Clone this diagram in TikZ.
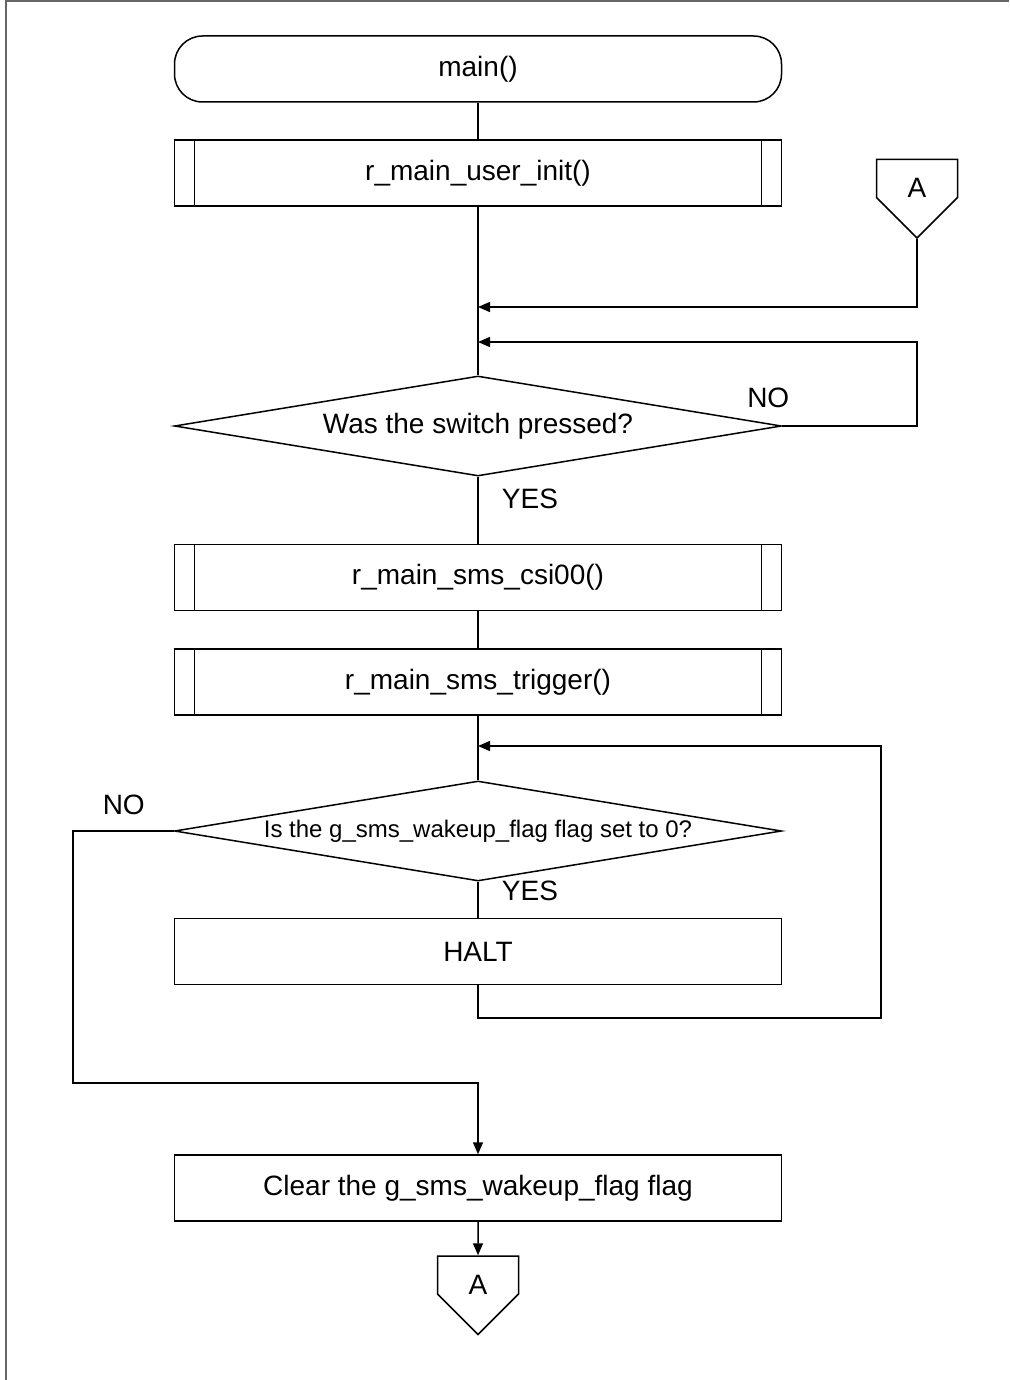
\documentclass[tikz,border=0pt]{standalone}
\usepackage{fontspec}
\setmainfont{Liberation Sans}
\usetikzlibrary{arrows.meta,shapes.geometric,shapes.symbols}

\begin{document}
\begin{tikzpicture}[x=0.5pt,y=-0.5pt,>={Triangle[length=6pt,width=5pt]},
                    line width=0.75pt,font=\fontsize{14}{16}\selectfont]

  \tikzstyle{term}=[rectangle,draw,rounded corners=14pt,minimum width=303.5pt,minimum height=33pt]
  \tikzstyle{proc}=[rectangle,draw,minimum width=303.5pt,minimum height=33pt]
  \tikzstyle{sub}=[proc,path picture={
      \draw ([xshift=10pt]path picture bounding box.north west) -- ([xshift=10pt]path picture bounding box.south west)
            ([xshift=-10pt]path picture bounding box.north east) -- ([xshift=-10pt]path picture bounding box.south east);}]
  \tikzstyle{decision}=[diamond,draw,aspect=6,inner sep=0pt,minimum width=303.5pt,minimum height=50pt]
  \tikzstyle{conn}=[signal,signal to=south,signal pointer angle=90,draw,text height=19pt,
                    minimum width=40.5pt,minimum height=21pt,inner sep=0pt]

  \useasboundingbox (0,0) rectangle (1009,1380);
  \draw[black!60,line width=1pt] (5.5,1380) -- (5.5,1.5) -- (1009,1.5);

  \node[term]     (main)                                  at (478,69) {main()};
  \node[sub]      (init)  [below of=main,node distance=52pt]          {r\_main\_user\_init()};
  \node[decision] (dec1)  [below of=init,node distance=126.5pt]       {Was the switch pressed?};
  \node[sub]      (csi)   [below of=dec1,node distance=75.75pt]       {r\_main\_sms\_csi00()};
  \node[sub]      (trig)  [below of=csi,node distance=52.25pt]        {r\_main\_sms\_trigger()};
  \node[decision] (dec2)  [below of=trig,node distance=74.5pt,font=\fontsize{12}{14}\selectfont]
                                                                      {Is the g\_sms\_wakeup\_flag flag set to 0?};
  \node[proc]     (halt)  [below of=dec2,node distance=60.25pt]       {HALT};
  \node[proc]     (clear) [below of=halt,node distance=118.25pt]      {Clear the g\_sms\_wakeup\_flag flag};
  \node[conn]     (connB) [below of=clear,node distance=43.5pt]       {A};
  \node[conn]     (connA)                                 at (917,178.5) {A};

  \node (no1)  at ([xshift=-7pt,yshift=14pt]dec1.east)   {NO};
  \node (yes1) at ([xshift=26pt,yshift=-11pt]dec1.south) {YES};
  \node (no2)  at ([xshift=-25pt,yshift=13pt]dec2.west)  {NO};
  \node (yes2) at ([xshift=26pt,yshift=-4.5pt]dec2.south) {YES};

  \coordinate (j1) at (478,307);
  \coordinate (j2) at (478,342);
  \coordinate (j3) at (478,746);
  \coordinate (hl) at (881,1018);
  \coordinate (nl) at (73,1083);

  \draw (main) -- (init);
  \draw (init) -- (dec1);
  \draw (dec1) -- (csi);
  \draw (csi) -- (trig);
  \draw (trig) -- (dec2);
  \draw (dec2) -- (halt);
  \draw[->] (clear) -- (connB);

  \draw[->] (connA.south) |- (j1);
  \draw[->] (dec1.east) -- (dec1.east -| connA.south) |- (j2);
  \draw[->] (halt.south) |- (hl) |- (j3);
  \draw[->] (dec2.west) -| (nl) -| (clear.north);
\end{tikzpicture}
\end{document}
